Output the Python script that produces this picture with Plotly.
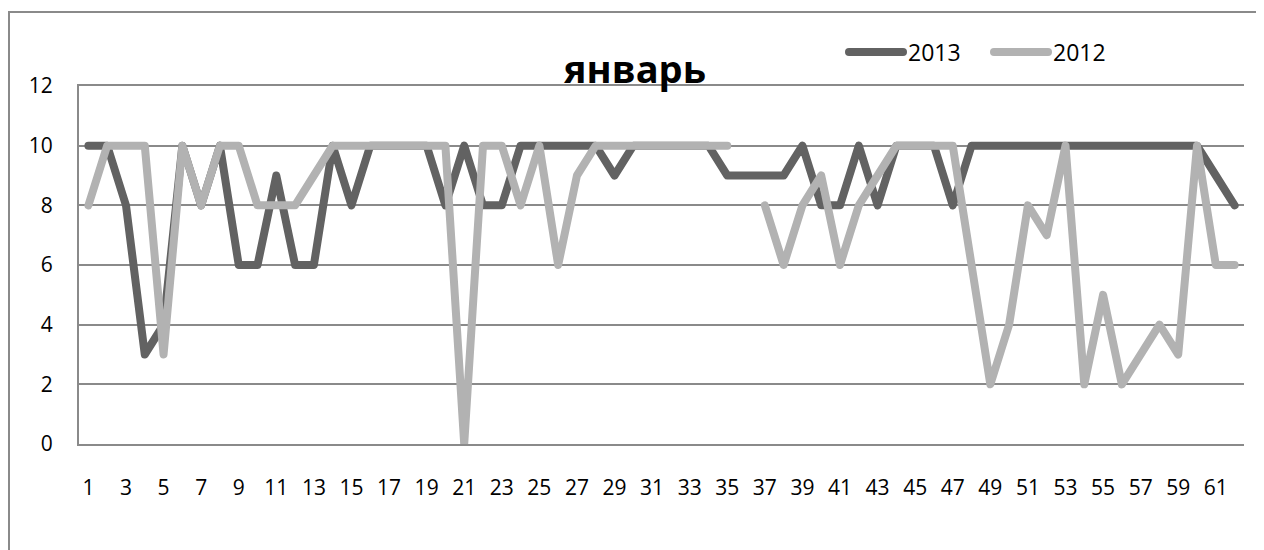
import plotly.graph_objects as go

days = list(range(1, 63))
tick_labels = [str(d) for d in range(1, 62, 2)]

values_2013 = [10, 10, 8, 3, 4, 10, 8, 10, 6, 6,
               9, 6, 6, 10, 8, 10, 10, 10, 10, 8,
               10, 8, 8, 10, 10, 10, 10, 10, 9, 10,
               10, 10, 10, 10, 9, 9, 9, 9, 10, 8,
               8, 10, 8, 10, 10, 10, 8, 10, 10, 10,
               10, 10, 10, 10, 10, 10, 10, 10, 10, 10,
               9, 8]

values_2012 = [8, 10, 10, 10, 3, 10, 8, 10, 10, 8,
               8, 8, 9, 10, 10, 10, 10, 10, 10, 10,
               0, 10, 10, 8, 10, 6, 9, 10, 10, 10,
               10, 10, 10, 10, 10, None, 8, 6, 8, 9,
               6, 8, 9, 10, 10, 10, 10, 6, 2, 4,
               8, 7, 10, 2, 5, 2, 3, 4, 3, 10,
               6, 6]

y_ticks = [0, 2, 4, 6, 8, 10, 12]

# page is rendered with an 8px body margin: figure px = page px - 8
W, H = 1264, 550
OFF = 8
L, T = 79 - OFF, 86 - OFF
R = W - (1244 - OFF)
B = H - (444 - OFF)
pw = W - L - R
ph = H - T - B

FONT = "Open Sans"
GRID = "#8a8a8a"

fig = go.Figure()
fig.add_trace(go.Scatter(x=days, y=values_2013, name="2013", mode="lines",
                         line=dict(color="#626262", width=8),
                         connectgaps=False))
fig.add_trace(go.Scatter(x=days, y=values_2012, name="2012", mode="lines",
                         line=dict(color="#b2b2b2", width=8),
                         connectgaps=False))

def px_to_paper_x(px):  # px in page coords
    return (px - OFF - L) / pw

def px_to_paper_y(py):  # py in page coords
    return (H - B - (py - OFF)) / ph

fig.update_layout(
    width=W, height=H,
    margin=dict(l=L, r=R, t=T, b=B, autoexpand=False),
    paper_bgcolor="white", plot_bgcolor="white",
    font=dict(family=FONT, size=21, color="black"),
    title=dict(text="<b>январь</b>", x=(635 - OFF) / W, xanchor="center",
               y=1 - (70 - OFF) / H, yanchor="middle", xref="container", yref="container",
               font=dict(family=FONT, size=38, color="black")),
    legend=dict(orientation="h", x=px_to_paper_x(844), y=px_to_paper_y(52),
                xanchor="left", yanchor="middle", font=dict(size=23),
                itemwidth=54, entrywidth=76, entrywidthmode="pixels",
                bgcolor="rgba(0,0,0,0)", traceorder="normal"),
    showlegend=True,
    xaxis=dict(range=[0.5, 62.5], tickmode="array",
               tickvals=list(range(1, 62, 2)), ticktext=tick_labels,
               showgrid=False, zeroline=False, showline=True, mirror=True,
               linecolor=GRID, linewidth=2, ticks="",
               ticklabelstandoff=24, fixedrange=True),
    yaxis=dict(range=[0, 12], tickmode="array", tickvals=y_ticks,
               ticktext=[str(v) for v in y_ticks],
               showgrid=True, gridcolor=GRID, gridwidth=1.5,
               zeroline=False, showline=True, linecolor=GRID, linewidth=2,
               ticks="", ticklabelstandoff=20, fixedrange=True),
    shapes=[dict(type="rect", xref="paper", yref="paper",
                 x0=px_to_paper_x(9), x1=px_to_paper_x(1400),
                 y0=px_to_paper_y(700), y1=px_to_paper_y(12),
                 line=dict(color="#8a8a8a", width=2), fillcolor="rgba(0,0,0,0)",
                 layer="below")],
)

round_joins = (
    "document.querySelectorAll('.js-line').forEach(function(e){"
    "e.style.strokeLinejoin='round';e.style.strokeLinecap='round';});"
)
fig.write_html("out.html", post_script=round_joins)
